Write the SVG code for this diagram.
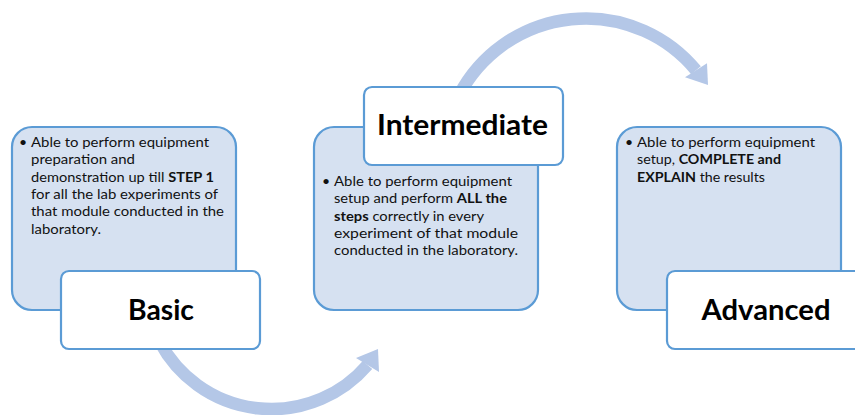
<svg xmlns="http://www.w3.org/2000/svg" width="855" height="415" viewBox="0 0 855 415">
<style>
.content{fill:#D6E1F1;stroke:#5B9BD5;stroke-width:2.2}
.label{fill:#FFFFFF;stroke:#5B9BD5;stroke-width:2.2}
.arc{fill:none;stroke:#B4C7E7;stroke-width:12.5;stroke-linecap:butt}
.head{fill:#B4C7E7}
.t{font-family:Lato,"Liberation Sans",sans-serif;font-size:14px;fill:#111}
.b{font-weight:bold}
.lbl{font-family:Lato,"Liberation Sans",sans-serif;font-size:29px;font-weight:bold;fill:#000;text-anchor:middle}
</style>
<rect width="855" height="415" fill="#FFFFFF"/>
<g id="connectors">
  <path class="arc" d="M159.8,341.9 A126.5,126.5 0 0 0 367.5,365"/>
  <polygon class="head" points="378,349 356,358 379,372"/>
  <path class="arc" d="M459.5,94.4 A143,143 0 0 1 696,70.3"/>
  <polygon class="head" points="708,85 685,77.3 707,63.3"/>
</g>
<g id="basic">
  <rect class="content" x="12" y="127" width="224" height="183" rx="20"/>
  <text class="t" x="19" y="147">•</text>
  <text class="t" x="31" y="147" textLength="178" lengthAdjust="spacingAndGlyphs">Able to perform equipment</text>
  <text class="t" x="31" y="164.3" textLength="104" lengthAdjust="spacingAndGlyphs">preparation and</text>
  <text class="t" x="31" y="181.6" textLength="183" lengthAdjust="spacingAndGlyphs">demonstration up till <tspan class="b">STEP 1</tspan></text>
  <text class="t" x="31" y="198.9" textLength="187" lengthAdjust="spacingAndGlyphs">for all the lab experiments of</text>
  <text class="t" x="31" y="216.2" textLength="193" lengthAdjust="spacingAndGlyphs">that module conducted in the</text>
  <text class="t" x="31" y="233.5" textLength="70" lengthAdjust="spacingAndGlyphs">laboratory.</text>
  <rect class="label" x="61" y="271" width="199" height="78" rx="8"/>
  <text class="lbl" x="161" y="320" textLength="66" lengthAdjust="spacingAndGlyphs">Basic</text>
</g>
<g id="intermediate">
  <rect class="content" x="314" y="127" width="224" height="183" rx="20"/>
  <text class="t" x="322" y="186">•</text>
  <text class="t" x="334" y="186" textLength="178" lengthAdjust="spacingAndGlyphs">Able to perform equipment</text>
  <text class="t" x="334" y="203.3" textLength="173" lengthAdjust="spacingAndGlyphs">setup and perform <tspan class="b">ALL the</tspan></text>
  <text class="t" x="334" y="220.6" textLength="150" lengthAdjust="spacingAndGlyphs"><tspan class="b">steps</tspan> correctly in every</text>
  <text class="t" x="334" y="237.9" textLength="184" lengthAdjust="spacingAndGlyphs">experiment of that module</text>
  <text class="t" x="334" y="255.2" textLength="184" lengthAdjust="spacingAndGlyphs">conducted in the laboratory.</text>
  <rect class="label" x="364" y="87" width="199" height="78" rx="8"/>
  <text class="lbl" x="462.5" y="135" textLength="171" lengthAdjust="spacingAndGlyphs">Intermediate</text>
</g>
<g id="advanced">
  <rect class="content" x="617" y="127" width="224" height="183" rx="20"/>
  <text class="t" x="625" y="147">•</text>
  <text class="t" x="637" y="147" textLength="178" lengthAdjust="spacingAndGlyphs">Able to perform equipment</text>
  <text class="t" x="637" y="164.3" textLength="144" lengthAdjust="spacingAndGlyphs">setup, <tspan class="b">COMPLETE and</tspan></text>
  <text class="t" x="637" y="181.6" textLength="128" lengthAdjust="spacingAndGlyphs"><tspan class="b">EXPLAIN</tspan> the results</text>
  <rect class="label" x="667" y="271" width="199" height="78" rx="8"/>
  <text class="lbl" x="766" y="320" textLength="129" lengthAdjust="spacingAndGlyphs">Advanced</text>
</g>
</svg>
